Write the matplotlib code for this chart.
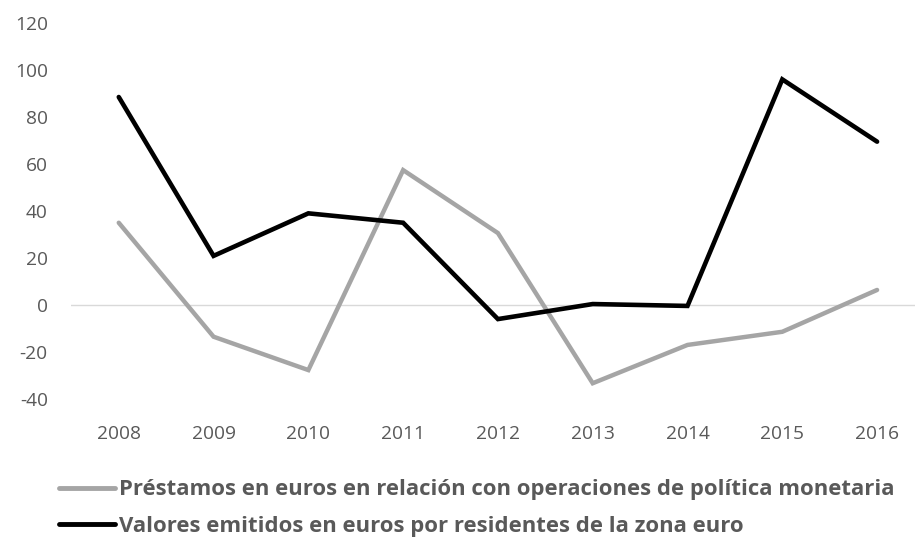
import matplotlib
matplotlib.use("Agg")
import matplotlib.pyplot as plt

years = ["2008", "2009", "2010", "2011", "2012", "2013", "2014", "2015", "2016"]
prestamos = [35, -13.5, -27.7, 57.4, 30.6, -33.3, -17, -11.4, 6.4]
valores = [88.5, 20.9, 39, 35, -6, 0.4, -0.4, 96, 69.5]
y_ticks = [-40, -20, 0, 20, 40, 60, 80, 100, 120]
label_prestamos = "Préstamos en euros en relación con operaciones de política monetaria"
label_valores = "Valores emitidos en euros por residentes de la zona euro"

plt.rcParams["font.family"] = ["Open Sans", "DejaVu Sans"]
plt.rcParams["axes.unicode_minus"] = False
text_color = "#595959"

fig = plt.figure(figsize=(9.15, 5.41), dpi=100)
ax = fig.add_axes([0.078, 0.2625, 0.922, 0.695])

x = list(range(len(years)))
ax.axhline(0, color="#D9D9D9", lw=1.0, zorder=1)
l1, = ax.plot(x, prestamos, color="#A5A5A5", lw=3.2, solid_joinstyle="miter",
              solid_capstyle="round", label=label_prestamos, zorder=2)
l2, = ax.plot(x, valores, color="#000000", lw=3.3, solid_joinstyle="miter",
              solid_capstyle="round", label=label_valores, zorder=3)

ax.set_xlim(-0.5, 8.4)
ax.set_ylim(-40, 120)
ax.set_xticks(x)
ax.set_xticklabels(years)
ax.set_yticks(y_ticks)
ax.tick_params(axis="both", length=0, labelsize=13.8, labelcolor=text_color)
ax.tick_params(axis="y", pad=17)
ax.tick_params(axis="x", pad=19)
for s in ax.spines.values():
    s.set_visible(False)

leg = fig.legend(handles=[l1, l2], loc="upper left", bbox_to_anchor=(0.065, 0.114),
                 frameon=False, handlelength=2.5, handletextpad=0.2,
                 labelspacing=0.7, borderpad=0, borderaxespad=0,
                 prop={"size": 15.9, "weight": "bold"})
for t in leg.get_texts():
    t.set_color(text_color)
for h in leg.legend_handles:
    h.set_linewidth(3.5)

fig.savefig("out.png", dpi=100)
